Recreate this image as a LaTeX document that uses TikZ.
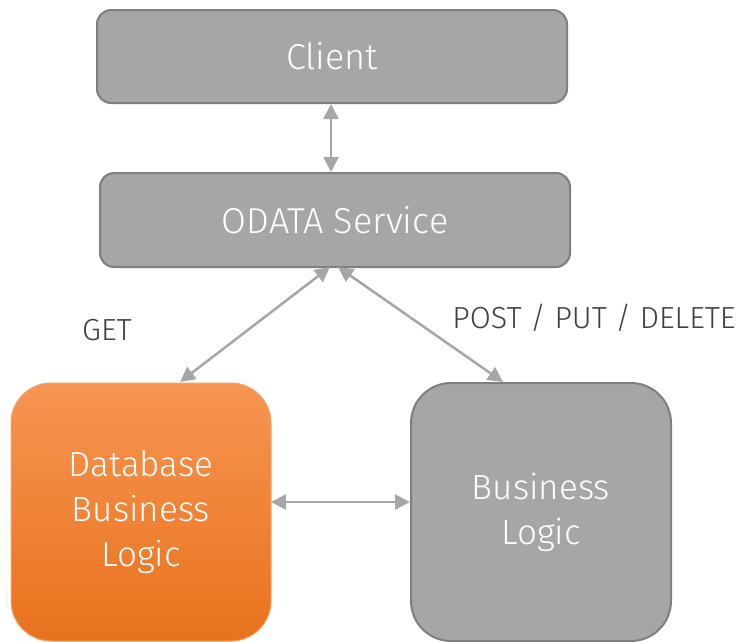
\documentclass[tikz,border=0pt]{standalone}
\usepackage{fontspec}
\setmainfont{Fira Sans Light}
\usetikzlibrary{arrows.meta}
\definecolor{boxgray}{HTML}{A6A6A6}
\definecolor{boxedge}{HTML}{7F7F7F}
\definecolor{arrgray}{HTML}{A6A6A6}
\definecolor{labelgray}{HTML}{404040}
\definecolor{orTop}{HTML}{F79553}
\definecolor{orMid}{HTML}{F7862B}
\definecolor{orBot}{HTML}{E8721C}
\definecolor{orEdge}{HTML}{F4A36A}
\tikzset{
  graybox/.style={draw=boxedge, line width=2pt, fill=boxgray, text=white, align=center, inner sep=0pt},
  orangebox/.style={draw=orEdge, line width=1pt, top color=orTop, middle color=orMid, bottom color=orBot, text=white, align=center, inner sep=0pt},
  conn/.style={draw=arrgray, line width=2.5pt, {Triangle[length=15pt,width=15pt]}-{Triangle[length=15pt,width=15pt]}, shorten <=0pt, shorten >=0pt},
  lbl/.style={text=labelgray, font=\fontsize{30.5}{35}\selectfont},
  headfont/.style={font=\fontsize{36}{42}\selectfont},
  bigfont/.style={font=\fontsize{35}{45}\selectfont}
}
\begin{document}
\begin{tikzpicture}[x=1pt,y=-1pt]
\useasboundingbox (0,0) rectangle (743,641);
\node[graybox, rounded corners=14pt, minimum width=470pt, minimum height=93pt, headfont] (client) at (332,56.5) {Client};
\node[graybox, rounded corners=14pt, minimum width=470pt, minimum height=94pt, headfont] (odata) at (335,220) {ODATA Service};
\node[orangebox, rounded corners=40pt, minimum width=260pt, minimum height=258pt, bigfont] (db) at (141,512) {Database\\Business\\Logic};
\node[graybox, rounded corners=40pt, minimum width=260pt, minimum height=258pt, bigfont] (bl) at (541,512) {Business\\Logic};
\node[lbl] (get) at (107,330) {GET};
\node[lbl] (post) at (594,318) {POST / PUT / DELETE};
\coordinate (cb) at (331,104);
\coordinate (ot) at (331,172);
\coordinate (o1) at (330,267);
\coordinate (o2) at (338,267);
\coordinate (d1) at (180,382);
\coordinate (b1) at (503,382);
\coordinate (dr) at (271,502);
\coordinate (bl2) at (410,502);
\draw[conn] (cb) -- (ot);
\draw[conn] (o1) -- (d1);
\draw[conn] (o2) -- (b1);
\draw[conn] (dr) -- (bl2);
\end{tikzpicture}
\end{document}
